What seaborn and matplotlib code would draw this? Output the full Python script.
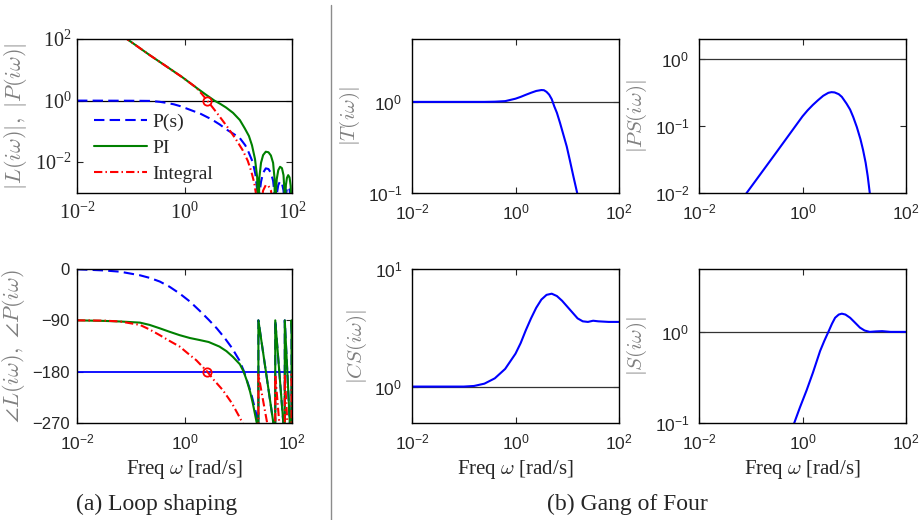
import seaborn as sns
import matplotlib.pyplot as plt
import numpy as np
import pandas as pd
from matplotlib.lines import Line2D
from matplotlib.ticker import NullLocator

# values (frequency in rad/s)

# (a) loop shaping - gain curves before the first notch
p_w = [0.01, 0.1, 0.224, 0.347, 0.468, 0.631, 0.832, 1.07, 1.413, 2.0, 2.884, 3.548, 4.467, 6.31, 8.511,
       10.72, 13.49, 14.79, 16.0, 18.62, 20.89, 22.8]
p_mag = [1.0, 0.989, 0.977, 0.912, 0.841, 0.759, 0.661, 0.562, 0.468, 0.372, 0.269, 0.219, 0.17, 0.11, 0.0794,
         0.0603, 0.0355, 0.0263, 0.019, 0.01, 0.004, 0.001]
pi_w = [0.07, 0.085, 0.224, 0.5, 0.91, 1.78, 2.512, 3.6, 4.571, 5.9, 8.0, 10.7, 13.2, 15.8, 18.0, 20.5, 22.5]
pi_mag = [126, 100, 30.2, 11.7, 5.75, 2.4, 1.55, 1.0, 0.794, 0.6, 0.4, 0.234, 0.126, 0.0708, 0.0355, 0.0126, 0.0032]
int_w = [0.07, 0.085, 0.224, 0.5, 0.91, 1.66, 2.14, 2.65, 4.0, 6.3, 9.0, 12.0, 15.0, 17.5, 20.0, 22.5]
int_mag = [126, 100, 30.2, 11.7, 5.75, 2.63, 1.58, 1.0, 0.4, 0.138, 0.056, 0.0251, 0.0112, 0.005, 0.002, 0.0005]

# gain lobes between the notches at high frequency
w_lobes = [23.7, 24.6, 26.5, 29, 32.5, 36.5, 40.5, 44.5, 47.3, 48.8, 50, 52, 55.5, 60, 65, 69.5, 72.3, 73.4,
           74.5, 77, 80.5, 85, 90, 94.5, 97, 98, 100]
p_lobes = [1e-5, 0.0008, 0.0023, 0.0045, 0.0063, 0.006, 0.0045, 0.0025, 0.0009, 1e-5, 0.0003, 0.0009, 0.0018,
           0.0024, 0.0021, 0.0012, 0.0004, 1e-5, 0.0002, 0.0008, 0.0014, 0.0016, 0.0013, 0.0007, 0.0002, 1e-5, 0.0002]
pi_lobes = [1e-5, 0.003, 0.0095, 0.017, 0.0219, 0.021, 0.0165, 0.0095, 0.003, 1e-5, 0.0009, 0.0028, 0.0055,
            0.0071, 0.0064, 0.0038, 0.0012, 1e-5, 0.0006, 0.0018, 0.0031, 0.0038, 0.0032, 0.0017, 0.0005, 1e-5, 0.0007]
int_lobes = [1e-5, 0.0002, 0.0005, 0.0012, 0.0018, 0.0017, 0.0012, 0.0005, 0.0002, 1e-5, 0.0001, 0.0002, 0.0003,
             0.0004, 0.0003, 0.0002, 0.0001, 1e-5, 0.0001, 0.0001, 0.0002, 0.0002, 0.0002, 0.0001, 0.0001, 1e-5, 0.0001]

# (a) loop shaping - phase [deg]
p_ph_w = [0.01, 0.0316, 0.063, 0.148, 0.224, 0.347, 0.525, 0.813, 1.259, 1.905, 2.818, 3.981, 5.495, 7.586,
          10.47, 12.59, 15.85, 17.78, 19.95, 22.91, 23.7]
p_ph = [-0.5, -2.5, -4.7, -11, -15.5, -22, -31, -43, -57, -73, -89, -104, -120, -138,
        -160, -178, -206, -222, -241, -264, -272]
pi_ph_w = [0.01, 0.0316, 0.063, 0.148, 0.224, 0.347, 0.525, 0.813, 1.259, 1.905, 2.818, 4.467, 6.026, 7.943,
           10.72, 12.59, 14.35, 16.6, 18.62, 21.88, 23.7]
pi_ph = [-90, -91, -92, -94, -98, -104, -110, -116, -121, -124.5, -128, -136, -144, -154,
         -167, -180, -195, -215, -235, -268, -280]
int_ph_w = [0.01, 0.0316, 0.063, 0.148, 0.224, 0.347, 0.525, 0.813, 1.122, 1.66, 2.65, 3.548, 5.129, 7.586,
            10.47, 12.02, 15.0, 23.7]
int_ph = [-90, -90.5, -92, -98, -106, -116, -126, -136, -147, -160, -180, -195, -212, -235,
          -259, -270, -290, -330]
# wrapped phase after each notch
tooth_w = [23.7, 32.7, 45.0, 48.8, 48.8, 58.0, 69.0, 73.4, 73.4, 81.8, 91.0, 98.0, 98.0, 100]
tooth_ph = [-90, -180, -270, -285, -90, -180, -270, -290, -90, -180, -270, -300, -90, -110]
int_tooth_w = [23.7, 34.5, 48.8, 48.8, 58.0, 73.4, 73.4, 82.0, 98.0, 98.0, 100]
int_tooth_ph = [-185, -270, -330, -185, -270, -340, -185, -270, -350, -185, -200]

w_cross = 2.65  # gain crossover of the integral design

# (b) gang of four
t_w = [0.01, 0.251, 0.398, 0.631, 1.0, 1.259, 1.585, 1.995, 2.512, 3.162, 3.548, 3.981, 4.467, 5.012, 5.623,
       6.31, 7.244, 8.318, 9.772, 11.22, 13.18, 15.85, 17.78]
t_mag = [1.0, 1.0, 1.005, 1.019, 1.084, 1.135, 1.197, 1.259, 1.318, 1.349, 1.343, 1.288, 1.202, 1.072, 0.891,
         0.759, 0.589, 0.447, 0.324, 0.229, 0.151, 0.0955, 0.0708]
ps_w = [0.0708, 0.0832, 0.316, 1.0, 1.259, 1.585, 1.995, 2.512, 3.162, 3.631, 4.169, 5.012, 5.754, 7.079,
        8.318, 9.55, 11.22, 13.18, 14.79, 16.6, 18.2, 19.95, 21.38]
ps_mag = [0.0085, 0.01, 0.0407, 0.138, 0.17, 0.204, 0.24, 0.279, 0.309, 0.316, 0.313, 0.295, 0.269, 0.214,
          0.174, 0.135, 0.0955, 0.0631, 0.0437, 0.0282, 0.0178, 0.01, 0.0071]
cs_w = [0.01, 0.1, 0.158, 0.251, 0.398, 0.631, 1.0, 1.259, 1.585, 1.995, 2.512, 3.162, 3.981, 5.012, 6.31,
        7.943, 10.0, 12.59, 15.85, 19.95, 25.12, 31.62, 39.81, 63.1, 100]
cs_mag = [1.0, 1.0, 1.012, 1.059, 1.175, 1.413, 1.905, 2.344, 3.02, 3.802, 4.677, 5.495, 6.026, 6.166, 5.888,
          5.37, 4.786, 4.266, 3.802, 3.589, 3.548, 3.631, 3.589, 3.548, 3.548]
s_w = [0.631, 0.692, 0.891, 1.202, 1.585, 2.188, 2.63, 3.162, 3.715, 4.266, 5.012, 5.754, 6.761, 8.318, 10.0,
       12.88, 15.85, 19.95, 26.3, 34.67, 50.1, 100]
s_mag = [0.087, 0.1, 0.148, 0.229, 0.355, 0.617, 0.794, 1.0, 1.23, 1.429, 1.549, 1.585, 1.549, 1.429, 1.288,
         1.114, 1.035, 1.0, 1.012, 1.019, 1.0, 1.0]

legend_labels = ["P(s)", "PI", "Integral"]
freq_exps = [-2, 0, 2]
phase_ticks = [0, -90, -180, -270]

sns.set_style("ticks")
plt.rcParams["font.family"] = ["Liberation Sans", "DejaVu Sans"]
plt.rcParams["mathtext.fontset"] = "cm"

SERIF = "Liberation Serif"
SANS = "Liberation Sans"
GRAY = "#808080"
BLUE, GREEN, RED = "#0000ff", "#008000", "#ff0000"
DASH = (0, (5, 2.5))
DASHDOT = (0, (4, 1.5, 0.7, 1.5))


def curve(ax, w, v, **kw):
    df = pd.DataFrame({"w": w, "v": v})
    sns.lineplot(data=df, x="w", y="v", ax=ax, estimator=None, sort=False, **kw)
    return ax.lines[-1]


def log_ticks(ax, which, exps, family, size):
    axis = ax.xaxis if which == "x" else ax.yaxis
    axis.set_ticks([10.0 ** e for e in exps])
    axis.set_ticklabels([r"$\mathdefault{10^{%d}}$" % e for e in exps], fontfamily=family, fontsize=size)
    axis.set_minor_locator(NullLocator())


def frame(ax, ypad=6):
    ax.tick_params(which="both", direction="in", top=True, right=True, length=4, width=0.8)
    ax.tick_params(axis="x", pad=7)
    ax.tick_params(axis="y", pad=ypad)
    for s in ax.spines.values():
        s.set_linewidth(1.0)
        s.set_color("k")


fig = plt.figure(figsize=(9.23, 5.2), dpi=100)
W, H = 923.0, 520.0


def box(x0, x1, y0, y1):
    return fig.add_axes([x0 / W, 1 - y1 / H, (x1 - x0) / W, (y1 - y0) / H])


ax_mag = box(77, 292, 39, 193)
ax_ph = box(77, 292, 269, 423)
ax_t = box(412, 619, 39, 193)
ax_ps = box(699, 906, 39, 193)
ax_cs = box(412, 619, 269, 423)
ax_s = box(699, 906, 269, 423)

for ax in [ax_mag, ax_ph, ax_t, ax_ps, ax_cs, ax_s]:
    ax.set_xscale("log")
for ax in [ax_mag, ax_t, ax_ps, ax_cs, ax_s]:
    ax.set_yscale("log")

# ---- (a) gain ----
ax_mag.axhline(1, color="k", lw=0.9)
h1 = curve(ax_mag, p_w + w_lobes, p_mag + p_lobes, color=BLUE, lw=1.5, linestyle=DASH)
h2 = curve(ax_mag, pi_w + w_lobes, pi_mag + pi_lobes, color=GREEN, lw=1.5)
h3 = curve(ax_mag, int_w + w_lobes, int_mag + int_lobes, color=RED, lw=1.5, linestyle=DASHDOT)
ax_mag.plot([w_cross], [1], "o", mfc="none", mec=RED, ms=6, mew=1.3)
log_ticks(ax_mag, "x", freq_exps, SERIF, 14.5)
log_ticks(ax_mag, "y", [-2, 0, 2], SERIF, 14.5)
ax_mag.set_xlim(1e-2, 1e2)
ax_mag.set_ylim(1e-3, 1e2)
ax_mag.set_xlabel("")
ax_mag.set_ylabel(r"$|L(i\omega)|,\ |P(i\omega)|$", color=GRAY, fontsize=16)
ax_mag.legend([h1, h2, h3], legend_labels, loc="upper left", bbox_to_anchor=(0.08, 0.515),
              frameon=False, prop={"family": SERIF, "size": 14}, handlelength=2.7,
              handletextpad=0.3, labelspacing=0.42, borderaxespad=0, borderpad=0)
frame(ax_mag, ypad=4)

# ---- (a) phase ----
ax_ph.axhline(-180, color=BLUE, lw=1.3)
curve(ax_ph, p_ph_w + tooth_w, p_ph + tooth_ph, color=BLUE, lw=1.5, linestyle=DASH)
curve(ax_ph, pi_ph_w + tooth_w, pi_ph + tooth_ph, color=GREEN, lw=1.5)
curve(ax_ph, int_ph_w + int_tooth_w, int_ph + int_tooth_ph, color=RED, lw=1.5, linestyle=DASHDOT)
ax_ph.plot([w_cross], [-180], "o", mfc="none", mec=RED, ms=6, mew=1.3)
log_ticks(ax_ph, "x", freq_exps, SANS, 12.5)
ax_ph.set_yticks(phase_ticks)
ax_ph.set_yticklabels(["0", "\u221290", "\u2212180", "\u2212270"], fontsize=12)
ax_ph.set_xlim(1e-2, 1e2)
ax_ph.set_ylim(-270, 0)
ax_ph.set_ylabel(r"$\angle L(i\omega),\ \angle P(i\omega)$", color=GRAY, fontsize=16)
ax_ph.set_xlabel(r"Freq $\omega$ [rad/s]", family=SERIF, fontsize=15)
frame(ax_ph, ypad=5)

# ---- (b) gang of four ----
panels = [
    (ax_t, t_w, t_mag, r"$|T(i\omega)|$", [-1, 0], (0.1, 4.9)),
    (ax_ps, ps_w, ps_mag, r"$|PS(i\omega)|$", [-2, -1, 0], (0.01, 1.95)),
    (ax_cs, cs_w, cs_mag, r"$|CS(i\omega)|$", [0, 1], (0.49, 10)),
    (ax_s, s_w, s_mag, r"$|S(i\omega)|$", [-1, 0], (0.1, 4.9)),
]
for ax, w, v, lab, yexps, ylim in panels:
    ax.axhline(1, color="#333333", lw=0.9)
    curve(ax, w, v, color=BLUE, lw=1.5)
    log_ticks(ax, "x", freq_exps, SANS, 12.5)
    log_ticks(ax, "y", yexps, SANS, 12.5)
    ax.set_xlim(1e-2, 1e2)
    ax.set_ylim(*ylim)
    ax.set_ylabel(lab, color=GRAY, fontsize=15)
    ax.set_xlabel("")
    frame(ax, ypad=7)

for ax in [ax_cs, ax_s]:
    ax.set_xlabel(r"Freq $\omega$ [rad/s]", family=SERIF, fontsize=15)

# separator and sub-captions
fig.add_artist(Line2D([331 / W, 331 / W], [0, 1 - 5 / H], color="0.55", lw=1.0))
fig.text(156.5 / W, 1 - 504 / H, "(a) Loop shaping", ha="center", va="center", family=SERIF, fontsize=17)
fig.text(627 / W, 1 - 504 / H, "(b) Gang of Four", ha="center", va="center", family=SERIF, fontsize=17)

fig.savefig("out.png", dpi=100)
